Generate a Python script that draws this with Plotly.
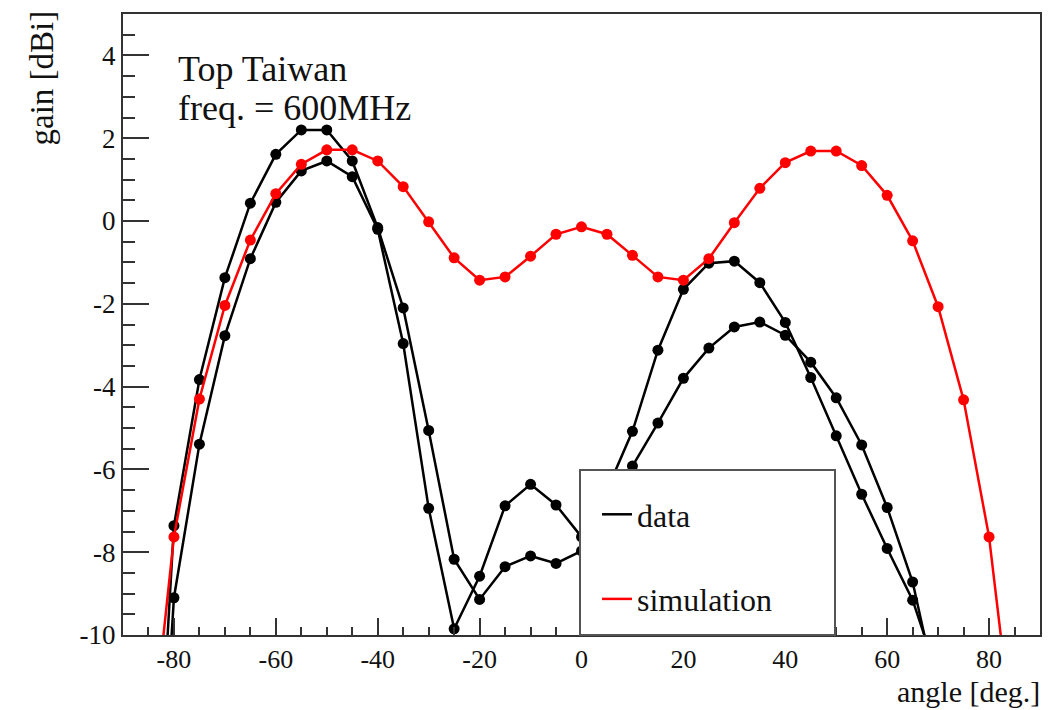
import plotly.graph_objects as go

# Antenna gain vs. angle, 600 MHz
data_angles = [-85, -80, -75, -70, -65, -60, -55, -50, -45, -40, -35, -30, -25, -20,
               -15, -10, -5, 0, 5, 10, 15, 20, 25, 30, 35, 40, 45, 50, 55, 60, 65, 70]

data_run1 = [-18.0, -7.36, -3.83, -1.37, 0.43, 1.61, 2.20, 2.20, 1.45, -0.16, -2.10, -5.06,
             -8.17, -9.14, -8.35, -8.09, -8.27, -7.97, -7.0, -5.92, -4.88, -3.80, -3.07,
             -2.56, -2.44, -2.76, -3.41, -4.27, -5.41, -6.92, -8.72, -11.5]

data_run2 = [-19.0, -9.10, -5.39, -2.77, -0.91, 0.45, 1.21, 1.45, 1.07, -0.20, -2.96, -6.94,
             -9.85, -8.58, -6.88, -6.36, -6.86, -7.63, -6.5, -5.08, -3.12, -1.65, -1.02,
             -0.97, -1.49, -2.45, -3.78, -5.19, -6.60, -7.91, -9.16, -11.0]

sim_angles = [-85, -80, -75, -70, -65, -60, -55, -50, -45, -40, -35, -30, -25, -20, -15,
              -10, -5, 0, 5, 10, 15, 20, 25, 30, 35, 40, 45, 50, 55, 60, 65, 70, 75, 80, 85]

sim_gain = [-13.4, -7.63, -4.30, -2.04, -0.46, 0.66, 1.37, 1.72, 1.72, 1.45, 0.83, -0.02,
            -0.89, -1.43, -1.35, -0.85, -0.32, -0.14, -0.32, -0.83, -1.35, -1.43, -0.91,
            -0.04, 0.79, 1.41, 1.69, 1.69, 1.34, 0.62, -0.48, -2.07, -4.32, -7.63, -12.8]

x_ticks = [-80, -60, -40, -20, 0, 20, 40, 60, 80]
x_tick_text = ["-80", "-60", "-40", "-20", "0", "20", "40", "60", "80"]
y_ticks = [-10, -8, -6, -4, -2, 0, 2, 4]
y_tick_text = ["-10", "-8", "-6", "-4", "-2", "0", "2", "4"]

SERIF = "Liberation Serif, Times New Roman, serif"
TXT = "#111111"
FRAME = "#333333"
BLACK = "black"
RED = "#ff0000"

fig = go.Figure()

for run in (data_run1, data_run2):
    fig.add_trace(go.Scatter(
        x=data_angles, y=run, mode="lines+markers", name="data",
        legendgroup="data", showlegend=False,
        line=dict(color=BLACK, width=2.5),
        marker=dict(color=BLACK, size=11),
    ))
fig.add_trace(go.Scatter(
    x=sim_angles, y=sim_gain, mode="lines+markers", name="simulation",
    legendgroup="sim", showlegend=False,
    line=dict(color=RED, width=2.5),
    marker=dict(color=RED, size=11),
))

# legend keys drawn as plain line samples
fig.add_trace(go.Scatter(
    x=[None], y=[None], mode="lines", name="data", legendgroup="data",
    line=dict(color=BLACK, width=2.5),
))
fig.add_trace(go.Scatter(
    x=[None], y=[None], mode="lines", name="simulation", legendgroup="sim",
    line=dict(color=RED, width=2.5),
))

# pixel geometry of the frame
L, R, T, B = 123, 1040, 14, 635
W, H = 1053, 710
pw, ph = R - L, B - T


def px(xpix):
    return (xpix - L) / pw


def py(ypix):
    return (B - ypix) / ph


fig.update_layout(
    width=W, height=H,
    margin=dict(l=L, r=W - R, t=T, b=H - B, pad=0),
    paper_bgcolor="white", plot_bgcolor="white",
    font=dict(family=SERIF, color=TXT),
    showlegend=True,
    legend=dict(
        x=px(597), y=py(487), xanchor="left", yanchor="top",
        bgcolor="rgba(0,0,0,0)", borderwidth=0,
        font=dict(family=SERIF, size=32, color=TXT),
        tracegroupgap=40, traceorder="grouped",
        itemwidth=30,
    ),
)

fig.update_xaxes(
    range=[-90, 90], showgrid=False, zeroline=False,
    showline=True, linecolor=FRAME, linewidth=2, mirror=True,
    tickmode="array", tickvals=x_ticks, ticktext=x_tick_text,
    ticks="inside", ticklen=17, tickwidth=2, tickcolor=FRAME,
    tickfont=dict(family=SERIF, size=26, color=TXT),
    minor=dict(tickmode="linear", tick0=0, dtick=5, ticks="inside",
               ticklen=8, tickwidth=2, tickcolor=FRAME),
)
fig.update_yaxes(
    range=[-10, 5], showgrid=False, zeroline=False,
    showline=True, linecolor=FRAME, linewidth=2, mirror=True,
    tickmode="array", tickvals=y_ticks, ticktext=y_tick_text,
    ticks="inside", ticklen=26, tickwidth=2, tickcolor=FRAME,
    tickfont=dict(family=SERIF, size=27, color=TXT),
    minor=dict(tickmode="linear", tick0=0, dtick=0.5, ticks="inside",
               ticklen=12, tickwidth=2, tickcolor=FRAME),
)

# opaque legend frame reaching down to the x axis
fig.add_shape(
    type="rect", xref="paper", yref="paper",
    x0=px(580), x1=px(835), y0=0, y1=py(470),
    fillcolor="white", line=dict(color="#555555", width=2), layer="above",
)

fig.add_annotation(
    text="Top Taiwan", xref="paper", yref="paper", x=px(176), y=py(69),
    xanchor="left", yanchor="middle", showarrow=False,
    font=dict(family=SERIF, size=36, color=TXT),
)
fig.add_annotation(
    text="freq. = 600MHz", xref="paper", yref="paper", x=px(176), y=py(108),
    xanchor="left", yanchor="middle", showarrow=False,
    font=dict(family=SERIF, size=36, color=TXT),
)
fig.add_annotation(
    text="gain [dBi]", xref="paper", yref="paper", x=px(42), y=py(9),
    xanchor="center", yanchor="top", textangle=-90, showarrow=False,
    font=dict(family=SERIF, size=33, color=TXT),
)
fig.add_annotation(
    text="angle [deg.]", xref="paper", yref="paper", x=px(1042), y=py(691),
    xanchor="right", yanchor="middle", showarrow=False,
    font=dict(family=SERIF, size=30, color=TXT),
)

fig.write_html("out.html")
